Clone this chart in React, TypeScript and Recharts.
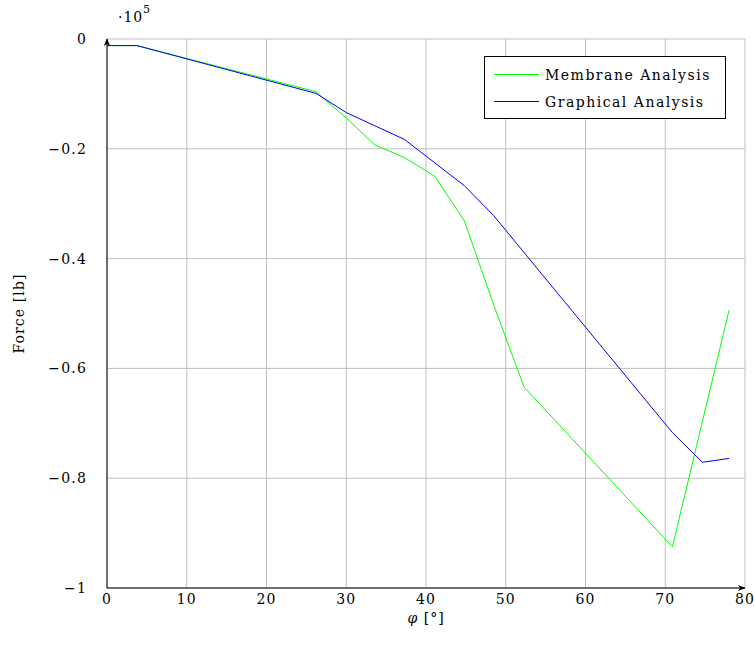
import React from "react";
import { LineChart, Line, XAxis, YAxis, CartesianGrid } from "recharts";

// angle phi [deg] and force [x 10^5 lb]
const membranePhi = [0, 3.75, 26.2, 30.0, 33.6, 37.3, 41.1, 44.8, 48.5, 52.3, 70.9, 78.0];
const membraneForce = [-0.012, -0.012, -0.096, -0.144, -0.193, -0.216, -0.25, -0.331, -0.485, -0.634, -0.925, -0.494];

const graphicalPhi = [0, 3.75, 26.2, 30.0, 37.3, 44.8, 48.5, 70.9, 74.65, 78.0];
const graphicalForce = [-0.012, -0.012, -0.099, -0.134, -0.183, -0.267, -0.322, -0.717, -0.771, -0.764];

const xTicks = [0, 10, 20, 30, 40, 50, 60, 70, 80];
const yTicks = [-1, -0.8, -0.6, -0.4, -0.2, 0];

const seriesNames = ["Membrane Analysis", "Graphical Analysis"];
const seriesColors = ["#00ff00", "#0000ff"];

const membrane = membranePhi.map((phi, i) => ({ phi, force: membraneForce[i] }));
const graphical = graphicalPhi.map((phi, i) => ({ phi, force: graphicalForce[i] }));

const font = "'DejaVu Serif', serif";
const tickStyle = { fontFamily: font, fontSize: 14, fill: "#000", letterSpacing: 1.2 };

const fmtY = (v: number) => (v === 0 ? "0" : "\u2212" + Math.abs(v));

const LegendBox = () => (
  <div
    style={{
      position: "absolute",
      left: 484,
      top: 56,
      border: "1px solid #000",
      background: "#fff",
      width: 242,
      height: 63,
      boxSizing: "border-box",
      paddingTop: 4,
      fontFamily: font,
      fontSize: 14,
      letterSpacing: 1.5,
    }}
  >
    {seriesNames.map((n, i) => (
      <div key={n} style={{ display: "flex", alignItems: "center", height: 27 }}>
        <div style={{ width: 45, height: 0, borderTop: `1px solid ${seriesColors[i]}`, marginLeft: 9, marginRight: 6 }} />
        <span>{n}</span>
      </div>
    ))}
  </div>
);

const XLabel = (props: any) => {
  const vb = props.viewBox;
  return (
    <text x={vb.x + vb.width / 2} y={vb.y + 35} textAnchor="middle" fontFamily={font} fontSize={14} fill="#000" letterSpacing={1}>
      <tspan fontStyle="italic">φ</tspan>
      <tspan> [°]</tspan>
    </text>
  );
};

export default function App() {
  return (
    <div style={{ position: "absolute", left: 0, top: 0, width: 754, height: 657, background: "#fff" }}>
      <svg width={0} height={0} style={{ position: "absolute" }}>
        <defs>
          <marker id="arr" viewBox="0 0 10 10" refX="9" refY="5" markerWidth="8" markerHeight="8" orient="auto-start-reverse" markerUnits="userSpaceOnUse">
            <path d="M0,1 L10,5 L0,9 L3,5 Z" fill="#000" />
          </marker>
        </defs>
      </svg>
      <LineChart width={754} height={657} data={membrane} margin={{ top: 39, right: 9, bottom: 0, left: 0 }}>
        <CartesianGrid stroke="#bfbfbf" strokeWidth={1} />
        <XAxis
          dataKey="phi"
          type="number"
          domain={[0, 80]}
          ticks={xTicks}
          height={69}
          axisLine={{ stroke: "#000", strokeWidth: 1, markerEnd: "url(#arr)" }}
          tickLine={false}
          tickMargin={0}
          tick={tickStyle}
          label={<XLabel />}
          allowDataOverflow
        />
        <YAxis
          dataKey="force"
          type="number"
          domain={[-1, 0]}
          ticks={yTicks}
          width={107}
          axisLine={{ stroke: "#000", strokeWidth: 1, markerStart: "url(#arr)" }}
          tickLine={false}
          tickMargin={14}
          tick={tickStyle}
          tickFormatter={fmtY}
          label={{
            value: "Force [lb]",
            angle: -90,
            position: "insideLeft",
            offset: 19,
            style: { textAnchor: "middle", fontFamily: font, fontSize: 14, fill: "#000", letterSpacing: 1.1 },
          }}
          allowDataOverflow
        />
        <Line data={membrane} dataKey="force" name={seriesNames[0]} stroke={seriesColors[0]} strokeWidth={1} dot={false} isAnimationActive={false} />
        <Line data={graphical} dataKey="force" name={seriesNames[1]} stroke={seriesColors[1]} strokeWidth={1} dot={false} isAnimationActive={false} />
      </LineChart>
      <LegendBox />
      <div style={{ position: "absolute", left: 118, top: 9, fontFamily: font, fontSize: 14, letterSpacing: 1, lineHeight: "16px" }}>
        ·10
      </div>
      <div style={{ position: "absolute", left: 143, top: 4, fontFamily: font, fontSize: 11, lineHeight: "12px" }}>
        5
      </div>
    </div>
  );
}
